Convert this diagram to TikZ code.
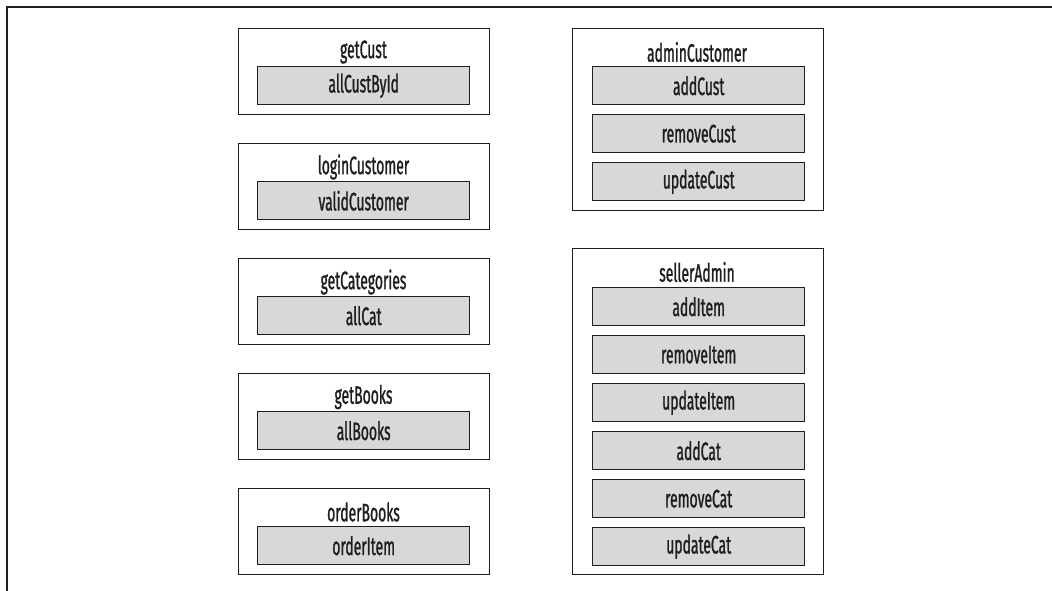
\documentclass[tikz,border=0pt]{standalone}
\usepackage{fontspec}
\setmainfont{Fira Sans}[FakeStretch=0.55,FakeBold=1]
\usepackage{xcolor}
\definecolor{Ink}{HTML}{1E1E1E}
\definecolor{Cell}{HTML}{D8D8D8}

\tikzset{
  groupbox/.style={draw=Ink,line width=1pt,fill=white,anchor=north west,
    minimum width=62.75mm,inner sep=0pt},
  titlelabel/.style={font=\fontsize{18}{20}\selectfont,text=Ink,inner sep=0pt},
  cellbox/.style={draw=Ink,line width=1pt,fill=Cell,anchor=north west,
    minimum width=53mm,minimum height=9.5mm,inner sep=0pt,
    font=\fontsize{18}{20}\selectfont,text=Ink},
}

\begin{document}
\begin{tikzpicture}[x=0.25mm,y=-0.25mm]
\path[use as bounding box,fill=white] (0,0) rectangle (1052,591);
\draw[Ink,line width=1.1pt] (7,591) -- (7,7) -- (1052,7);

% left column
\node[groupbox,minimum height=21.5mm] (getCust) at (238,28) {};
\node[titlelabel] (getCustT) at (363.5,52) {getCust};
\node[cellbox] (allCustById) at (257,66) {allCustById};

\node[groupbox,minimum height=21.5mm] (loginCustomer) at (238,143) {};
\node[titlelabel] (loginCustomerT) at (363.5,167) {loginCustomer};
\node[cellbox] (validCustomer) at (257,181) {validCustomer};

\node[groupbox,minimum height=21.5mm] (getCategories) at (238,258) {};
\node[titlelabel] (getCategoriesT) at (363.5,282) {getCategories};
\node[cellbox] (allCat) at (257,296) {allCat};

\node[groupbox,minimum height=21.5mm] (getBooks) at (238,373) {};
\node[titlelabel] (getBooksT) at (363.5,397) {getBooks};
\node[cellbox] (allBooks) at (257,411) {allBooks};

\node[groupbox,minimum height=21.5mm] (orderBooks) at (238,488) {};
\node[titlelabel] (orderBooksT) at (363.5,512) {orderBooks};
\node[cellbox] (orderItem) at (257,526) {orderItem};

% right column
\node[groupbox,minimum height=45.5mm] (adminCustomer) at (572,28) {};
\node[titlelabel] (adminCustomerT) at (697,52) {adminCustomer};
\node[cellbox] (addCust) at (592,66) {addCust};
\node[cellbox] (removeCust) at (592,114) {removeCust};
\node[cellbox] (updateCust) at (592,162) {updateCust};

\node[groupbox,minimum height=81.5mm] (sellerAdmin) at (572,248) {};
\node[titlelabel] (sellerAdminT) at (697,272) {sellerAdmin};
\node[cellbox] (addItem) at (592,287) {addItem};
\node[cellbox] (removeItem) at (592,335) {removeItem};
\node[cellbox] (updateItem) at (592,383) {updateItem};
\node[cellbox] (addCat) at (592,431) {addCat};
\node[cellbox] (removeCat) at (592,479) {removeCat};
\node[cellbox] (updateCat) at (592,527) {updateCat};
\end{tikzpicture}
\end{document}
